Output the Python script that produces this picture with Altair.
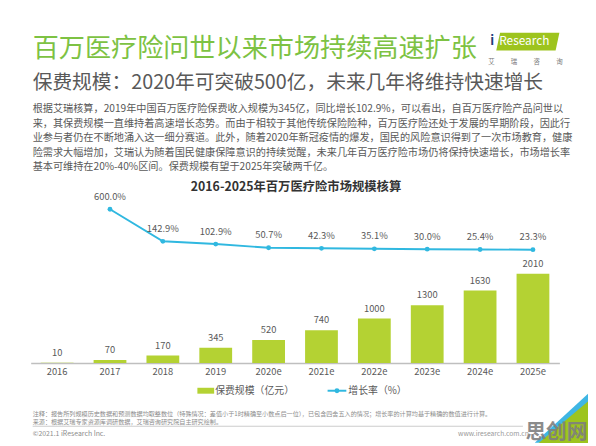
import altair as alt
import pandas as pd

# ---------------- data ----------------
years = ["2016", "2017", "2018", "2019", "2020e", "2021e", "2022e", "2023e", "2024e", "2025e"]
premium = [10, 70, 170, 345, 520, 740, 1000, 1300, 1630, 2010]
growth_years = ["2017", "2018", "2019", "2020e", "2021e", "2022e", "2023e", "2024e", "2025e"]
growth = [600.0, 142.9, 102.9, 50.7, 42.3, 35.1, 30.0, 25.4, 23.3]

title_text = "百万医疗险问世以来市场持续高速扩张"
subtitle_text = "保费规模：2020年可突破500亿，未来几年将维持快速增长"
para_lines = [
    "根据艾瑞核算，2019年中国百万医疗险保费收入规模为345亿，同比增长102.9%，可以看出，自百万医疗险产品问世以",
    "来，其保费规模一直维持着高速增长态势。而由于相较于其他传统保险险种，百万医疗险还处于发展的早期阶段，因此行",
    "业参与者仍在不断地涌入这一细分赛道。此外，随着2020年新冠疫情的爆发，国民的风险意识得到了一次市场教育，健康",
    "险需求大幅增加，艾瑞认为随着国民健康保障意识的持续觉醒，未来几年百万医疗险市场仍将保持快速增长，市场增长率",
    "基本可维持在20%-40%区间。保费规模有望于2025年突破两千亿。",
]
chart_title = "2016-2025年百万医疗险市场规模核算"
legend_bar = "保费规模（亿元）"
legend_line = "增长率（%）"
note1 = "注释：报告所列规模历史数据和预测数据均取整数位（特殊情况：差值小于1时精确至小数点后一位），已包含四舍五入的情况；增长率的计算均基于精确的数值进行计算。"
note2 = "来源：根据艾瑞专家资源库调研数据，艾瑞咨询研究院自主研究绘制。"
copyright_text = "©2021.1 iResearch Inc."
site_text = "www.iresearch.com.cn"
logo_cn = ["艾", "瑞", "咨", "询"]

bar_df = pd.DataFrame({"year": years, "premium": premium})
line_df = pd.DataFrame({"year": growth_years, "growth": growth})
line_df["label"] = [f"{g:.1f}%" for g in growth]

# ---------------- style / geometry ----------------
FONT = "Noto Sans CJK SC"
GREEN_T = "#7DC243"
BAR = "#B4D233"
LINE = "#30B8E0"
GRAY = "#595959"

PAD_L, PAD_T = 23, 192
W, H = 536, 165
TOTAL_W, TOTAL_H = 588, 436


def px(x):
    return x - 8 - PAD_L


def py(y):
    return y - 8 - PAD_T


one = pd.DataFrame({"k": [0]})


def txt(s, x, y, size, color, weight="normal", align="left", baseline="middle", **kw):
    return alt.Chart(one).mark_text(
        x=px(x), y=py(y), fontSize=size, color=color, fontWeight=weight,
        align=align, baseline=baseline, font=FONT, **kw
    ).encode(text=alt.value(s))


xenc = alt.X(
    "year:N",
    sort=years,
    scale=alt.Scale(domain=years, paddingInner=0.38, paddingOuter=0.19),
    axis=alt.Axis(
        title=None, labelAngle=0, ticks=False, domainColor="#BFBFBF", domainWidth=1.5,
        labelFont=FONT, labelFontSize=9.5, labelColor=GRAY, labelPadding=4, grid=False,
    ),
)

ybar = alt.Y("premium:Q", scale=alt.Scale(domain=[0, 3657], nice=False, zero=True), axis=None)
yline = alt.Y("growth:Q", scale=alt.Scale(domain=[-1594.3, 726.7], nice=False, zero=False), axis=None)

bars = alt.Chart(bar_df).mark_bar(color=BAR).encode(x=xenc, y=ybar)
bar_labels = alt.Chart(bar_df).mark_text(
    dy=-10, baseline="middle", font=FONT, fontSize=9.5, color=GRAY
).encode(x=xenc, y=ybar, text=alt.Text("premium:Q"))

bar_layer = alt.layer(bars, bar_labels)

line = alt.Chart(line_df).mark_line(color=LINE, strokeWidth=2).encode(x=xenc, y=yline)
pts = alt.Chart(line_df).mark_point(filled=True, color=LINE, size=24, opacity=1).encode(x=xenc, y=yline)
line_labels = alt.Chart(line_df).mark_text(
    dy=-12.5, baseline="middle", font=FONT, fontSize=9.5, color=GRAY
).encode(x=xenc, y=yline, text="label:N")
line_layer = alt.layer(line, pts, line_labels)

plot = alt.layer(bar_layer, line_layer).resolve_scale(y="independent")

# ---------------- slide texts ----------------
layers = [plot]
layers.append(txt(title_text, 33, 47, 26.5, GREEN_T))
layers.append(txt(subtitle_text, 33, 81, 20, GRAY))
for i, ln in enumerate(para_lines):
    layers.append(txt(ln, 33, 107.5 + i * 14.8, 10.3, GRAY))
layers.append(txt(chart_title, 300, 187, 12.5, "#333333", weight="bold", align="center"))

# legend
layers.append(
    alt.Chart(one).mark_rect(color=BAR).encode(
        x=alt.value(px(200)), x2=alt.value(px(217)), y=alt.value(py(390)), y2=alt.value(py(396))
    )
)
layers.append(txt(legend_bar, 218, 393, 10, GRAY))
layers.append(
    alt.Chart(one).mark_rule(color=LINE, strokeWidth=2).encode(
        x=alt.value(px(332)), x2=alt.value(px(351)), y=alt.value(py(393))
    )
)
layers.append(
    alt.Chart(one).mark_point(filled=True, color=LINE, size=24, opacity=1).encode(
        x=alt.value(px(341.5)), y=alt.value(py(393))
    )
)
layers.append(txt(legend_line, 353, 393, 10, GRAY))

# logo
layers.append(
    alt.Chart(one).mark_point(
        shape="M -0.88 -0.28 L 1 -0.28 L 0.88 0.28 L -1 0.28 Z",
        filled=True, size=4096, color="#9DC41E", opacity=1, strokeWidth=0,
    ).encode(x=alt.value(px(535)), y=alt.value(py(39)))
)
layers.append(txt("i", 497, 39, 13, "#1F3F7A", weight="bold"))
layers.append(txt("Research", 506, 39, 12, "white"))
for i, ch in enumerate(logo_cn):
    layers.append(txt(ch, 498 + i * 23, 60, 6.5, "#777777", align="center"))

# footnotes
layers.append(txt(note1, 33, 416.8, 6.2, "#8C8C8C"))
layers.append(txt(note2, 33, 424.6, 6.2, "#8C8C8C"))
layers.append(
    alt.Chart(one).mark_rule(color="#A6A6A6", strokeWidth=0.6).encode(
        x=alt.value(px(33)), x2=alt.value(px(530)), y=alt.value(py(429))
    )
)
layers.append(txt(copyright_text, 33, 437, 7, "#8C8C8C"))
layers.append(txt(site_text, 536, 437, 6.8, "#999999", align="right"))

# corner decoration and watermark
layers.append(
    alt.Chart(one).mark_point(
        shape="M 1 -0.92 L 1 0.92 L -1 0.92 Z", filled=True, size=2916, color="#3FB6E4", opacity=1, strokeWidth=0
    ).encode(x=alt.value(px(569)), y=alt.value(py(421)))
)
layers.append(
    alt.Chart(one).mark_point(
        shape="M 1 -0.84 L 1 0.84 L -1 0.84 Z", filled=True, size=2500, color="#9DC41E", opacity=1, strokeWidth=0
    ).encode(x=alt.value(px(571)), y=alt.value(py(425)))
)
layers.append(txt("思创网", 564, 436, 21, "#7F7F7F", weight="bold", align="center", opacity=0.9))

chart = alt.layer(*layers).properties(
    width=W,
    height=H,
    autosize=alt.AutoSizeParams(type="none"),
    padding={"left": PAD_L, "top": PAD_T, "right": TOTAL_W - PAD_L - W, "bottom": TOTAL_H - PAD_T - H},
    background="white",
).configure_view(stroke=None)

chart.save("out.html", embed_options={"renderer": "svg", "actions": False})
